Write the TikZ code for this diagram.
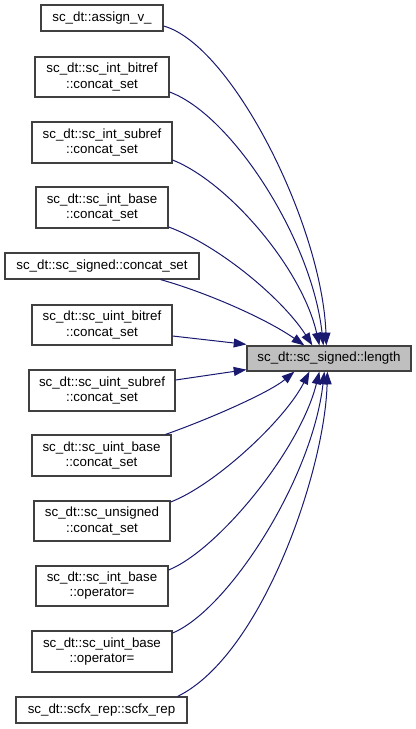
\documentclass[tikz,border=0pt]{standalone}
\usepackage{fontspec}
\setmainfont{Liberation Sans}
\usetikzlibrary{arrows.meta,calc}
\definecolor{edgeblue}{HTML}{191970}
\definecolor{boxline}{HTML}{404040}
\definecolor{targetfill}{HTML}{BFBFBF}
\begin{document}
\begin{tikzpicture}[x=0.75pt,y=-0.75pt,
  fbox/.style={draw=boxline,line width=0.9pt,fill=white,rectangle,inner sep=0pt,align=center,
    font=\fontsize{10}{11.3}\selectfont},
  tbox/.style={fbox,fill=targetfill},
  edge/.style={draw=edgeblue,line width=0.75pt,-{Triangle[length=9.5pt,width=6.75pt]}}]
\useasboundingbox (0,0) rectangle (416,729);
% boxes
\node[fbox,minimum width=91.5pt,minimum height=19.5pt] (n1) at (102,18) {sc\_dt::assign\_v\_};
\node[fbox,minimum width=100.5pt,minimum height=30pt] (n2) at (102,77) {sc\_dt::sc\_int\_bitref\\::concat\_set};
\node[fbox,minimum width=105pt,minimum height=30.75pt] (n3) at (102,142.5) {sc\_dt::sc\_int\_subref\\::concat\_set};
\node[fbox,minimum width=99pt,minimum height=30.75pt] (n4) at (102,207.5) {sc\_dt::sc\_int\_base\\::concat\_set};
\node[fbox,minimum width=145.5pt,minimum height=19.5pt] (n5) at (102,266) {sc\_dt::sc\_signed::concat\_set};
\node[fbox,minimum width=105pt,minimum height=30pt] (n6) at (102,325) {sc\_dt::sc\_uint\_bitref\\::concat\_set};
\node[fbox,minimum width=109.5pt,minimum height=30.75pt] (n7) at (102,390.5) {sc\_dt::sc\_uint\_subref\\::concat\_set};
\node[fbox,minimum width=104.25pt,minimum height=30.75pt] (n8) at (101.5,455.5) {sc\_dt::sc\_uint\_base\\::concat\_set};
\node[fbox,minimum width=102pt,minimum height=30pt] (n9) at (102,521) {sc\_dt::sc\_unsigned\\::concat\_set};
\node[fbox,minimum width=99pt,minimum height=30pt] (n10) at (102,586) {sc\_dt::sc\_int\_base\\::operator=};
\node[fbox,minimum width=105pt,minimum height=30.75pt] (n11) at (102,651.5) {sc\_dt::sc\_uint\_base\\::operator=};
\node[fbox,minimum width=128.25pt,minimum height=19.5pt] (n12) at (101.5,710) {sc\_dt::scfx\_rep::scfx\_rep};
\node[tbox,minimum width=123pt,minimum height=18.75pt] (t) at (329,358.5) {sc\_dt::sc\_signed::length};
% edges
\draw[edge] ($(n1.east)+(0,8)$) .. controls (232,45) and (322,225) .. ($(t.north west)+(80,0)$);
\draw[edge] ($(n2.east)+(0,15)$) .. controls (232,115) and (312,240) .. ($(t.north west)+(77,0)$);
\draw[edge] ($(n3.east)+(0,17.5)$) .. controls (228,182) and (302,268) .. ($(t.north west)+(73,0)$);
\draw[edge] ($(n4.east)+(0,19.5)$) .. controls (218,245) and (282,298) .. ($(t.north west)+(66,0)$);
\draw[edge] ($(n5.south east)+(-39,0)$) .. controls (205,292) and (265,318) .. ($(t.north west)+(58,0)$);
\draw[edge] ($(n6.east)+(0,11)$) -- ($(t.north west)+(0,-1)$);
\draw[edge] ($(n7.east)+(0,-10.5)$) -- ($(t.south west)+(0,-2)$);
\draw[edge] ($(n8.north east)+(-6,0)$) .. controls (212,418) and (270,392) .. ($(t.south west)+(48,0)$);
\draw[edge] ($(n9.east)+(0,-19)$) .. controls (215,485) and (285,420) .. ($(t.south west)+(63,0)$);
\draw[edge] ($(n10.east)+(0,-16)$) .. controls (218,550) and (300,450) .. ($(t.south west)+(73,0)$);
\draw[edge] ($(n11.east)+(0,-18.5)$) .. controls (228,610) and (312,480) .. ($(t.south west)+(78,0)$);
\draw[edge] ($(n12.north east)+(-10,0)$) .. controls (262,655) and (325,470) .. ($(t.south west)+(81,0)$);
\end{tikzpicture}
\end{document}
